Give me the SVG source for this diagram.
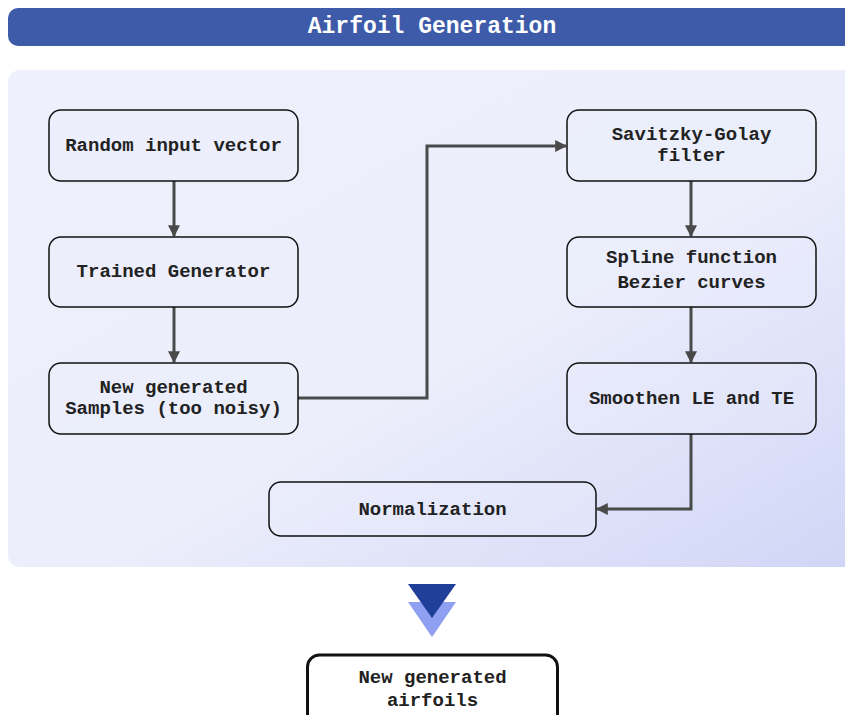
<svg xmlns="http://www.w3.org/2000/svg" width="845" height="715" viewBox="0 0 845 715">
  <defs>
    <linearGradient id="panelFill" x1="0" y1="0" x2="1" y2="1">
      <stop offset="0" stop-color="#eef0fc"/>
      <stop offset="0.55" stop-color="#eceefb"/>
      <stop offset="1" stop-color="#d0d5f6"/>
    </linearGradient>
    <marker id="arrow" viewBox="0 0 10 10" refX="9" refY="5" markerWidth="4" markerHeight="4" markerUnits="strokeWidth" orient="auto">
      <path d="M0,0 L10,5 L0,10 Z" fill="#4a4a4a"/>
    </marker>
    <style>
      .node rect { fill: #eceefb; fill-opacity: 0.35; stroke: #111; stroke-width: 1.5; }
      .label { font-family: "Liberation Mono", "Courier New", monospace; font-weight: bold; font-size: 19px; fill: #222; text-anchor: middle; }
      .edge { fill: none; stroke: #4a4a4a; stroke-width: 3; marker-end: url(#arrow); }
    </style>
  </defs>

  <!-- header bar -->
  <g id="header">
    <rect x="8" y="8" width="860" height="38" rx="10" fill="#3d5ba8"/>
    <text x="432" y="33" font-family="Liberation Mono, Courier New, monospace" font-weight="bold" font-size="23px" fill="#ffffff" text-anchor="middle">Airfoil Generation</text>
  </g>

  <!-- background panel -->
  <rect id="panel" x="8" y="70" width="860" height="497" rx="12" fill="url(#panelFill)"/>

  <!-- connectors -->
  <g id="connectors">
    <path class="edge" d="M174,181 L174,236"/>
    <path class="edge" d="M174,307 L174,362"/>
    <path class="edge" d="M298,398 L427,398 L427,146 L566,146"/>
    <path class="edge" d="M691,181 L691,236"/>
    <path class="edge" d="M691,307 L691,362"/>
    <path class="edge" d="M691,434 L691,509 L597,509"/>
  </g>

  <g id="random-input" class="node">
    <rect x="49" y="110" width="249" height="71" rx="12"/>
    <text class="label" x="173.5" y="151">Random input vector</text>
  </g>
  <g id="trained-generator" class="node">
    <rect x="49" y="237" width="249" height="70" rx="12"/>
    <text class="label" x="173.5" y="277">Trained Generator</text>
  </g>
  <g id="new-samples" class="node">
    <rect x="49" y="363" width="249" height="71" rx="12"/>
    <text class="label" x="173.5" y="393">New generated</text>
    <text class="label" x="173.5" y="414">Samples (too noisy)</text>
  </g>
  <g id="savitzky-golay" class="node">
    <rect x="567" y="110" width="249" height="71" rx="12"/>
    <text class="label" x="691.5" y="140">Savitzky-Golay</text>
    <text class="label" x="691.5" y="161">filter</text>
  </g>
  <g id="spline" class="node">
    <rect x="567" y="237" width="249" height="70" rx="12"/>
    <text class="label" x="691.5" y="263">Spline function</text>
    <text class="label" x="691.5" y="288">Bezier curves</text>
  </g>
  <g id="smoothen" class="node">
    <rect x="567" y="363" width="249" height="71" rx="12"/>
    <text class="label" x="691.5" y="404">Smoothen LE and TE</text>
  </g>
  <g id="normalization" class="node">
    <rect x="269" y="482" width="327" height="54" rx="12"/>
    <text class="label" x="432.5" y="515">Normalization</text>
  </g>

  <!-- down chevrons -->
  <g id="chevron">
    <polygon points="408,602 456,602 432,637" fill="#8f9ff2"/>
    <polygon points="408,584 456,584 432,618" fill="#1f3f99"/>
  </g>

  <g id="generated-airfoils">
    <rect x="307.5" y="655" width="250" height="75" rx="12" fill="#ffffff" stroke="#111" stroke-width="3"/>
    <text class="label" x="432.5" y="683">New generated</text>
    <text class="label" x="432.5" y="706">airfoils</text>
  </g>
</svg>
